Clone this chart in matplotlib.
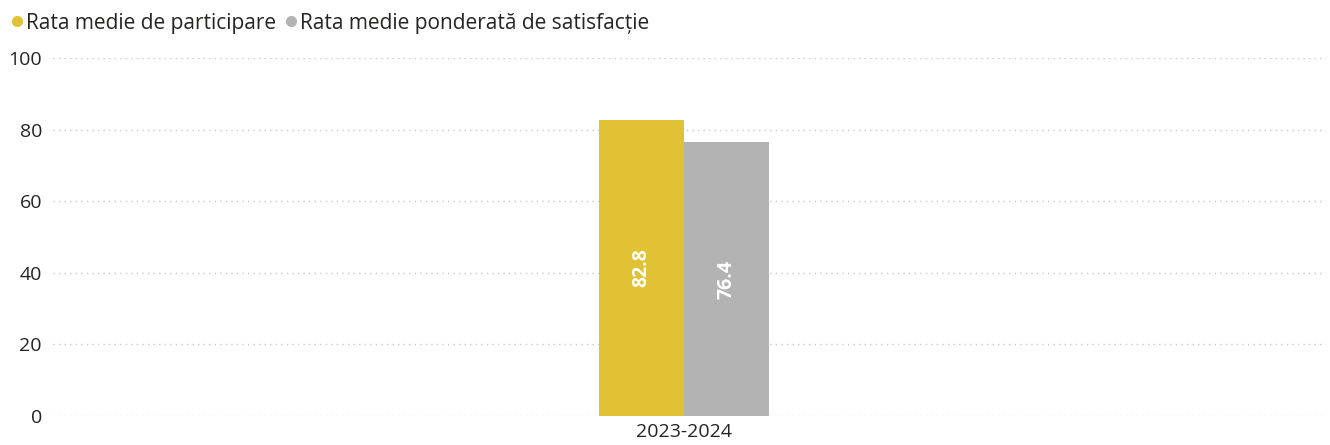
import matplotlib.pyplot as plt
import numpy as np
from matplotlib.lines import Line2D

plt.rcParams['font.family'] = ['Open Sans', 'DejaVu Sans']

# Date
categories = ['2023-2024']
series_names = ['Rata medie de participare', 'Rata medie ponderată de satisfacție']
participare = [82.8]
satisfactie = [76.4]
yticks = [0, 20, 40, 60, 80, 100]

colors = ['#E0C234', '#B3B3B3']
text_color = '#252423'

fig = plt.figure(figsize=(13.3, 4.45), dpi=100)
fig.patch.set_facecolor('white')
ax = fig.add_axes([53 / 1330, 1 - 416 / 445, (1326 - 53) / 1330, (416 - 58) / 445])

x = np.arange(len(categories))
w = 0.067
b1 = ax.bar(x - w / 2, participare, width=w, color=colors[0], label=series_names[0], zorder=2)
b2 = ax.bar(x + w / 2, satisfactie, width=w, color=colors[1], label=series_names[1], zorder=2)

for bars, vals in [(b1, participare), (b2, satisfactie)]:
    for rect, v in zip(bars, vals):
        ax.text(rect.get_x() + rect.get_width() / 2, v / 2, f'{v:.1f}', rotation=90,
                ha='center', va='center', color='white', fontsize=14, fontweight='bold')

# categoria nu e chiar centrată in grila
ax.set_xlim(-0.5, 0.5 * 642 / 631)
ax.set_ylim(0, 100)
ax.set_yticks(yticks)
ax.set_xticks(x)
ax.set_xticklabels(categories)
ax.tick_params(axis='both', length=0, labelsize=14, colors=text_color)
ax.tick_params(axis='y', pad=8)
ax.tick_params(axis='x', pad=5)
ax.grid(axis='y', linestyle=(0, (1, 3)), color='#c8c8c8', linewidth=1, zorder=0)
for s in ax.spines.values():
    s.set_visible(False)

# Legenda cu puncte
handles = [Line2D([], [], marker='o', linestyle='none', markersize=7, color=c) for c in colors]
fig.legend(handles=handles, labels=series_names, loc='upper left', bbox_to_anchor=(-0.005, 1.014),
           ncol=2, frameon=False, fontsize=15, handlelength=0.5,
           handletextpad=0.15, columnspacing=0.5, labelcolor=text_color)

fig.savefig('out.png', dpi=100)
